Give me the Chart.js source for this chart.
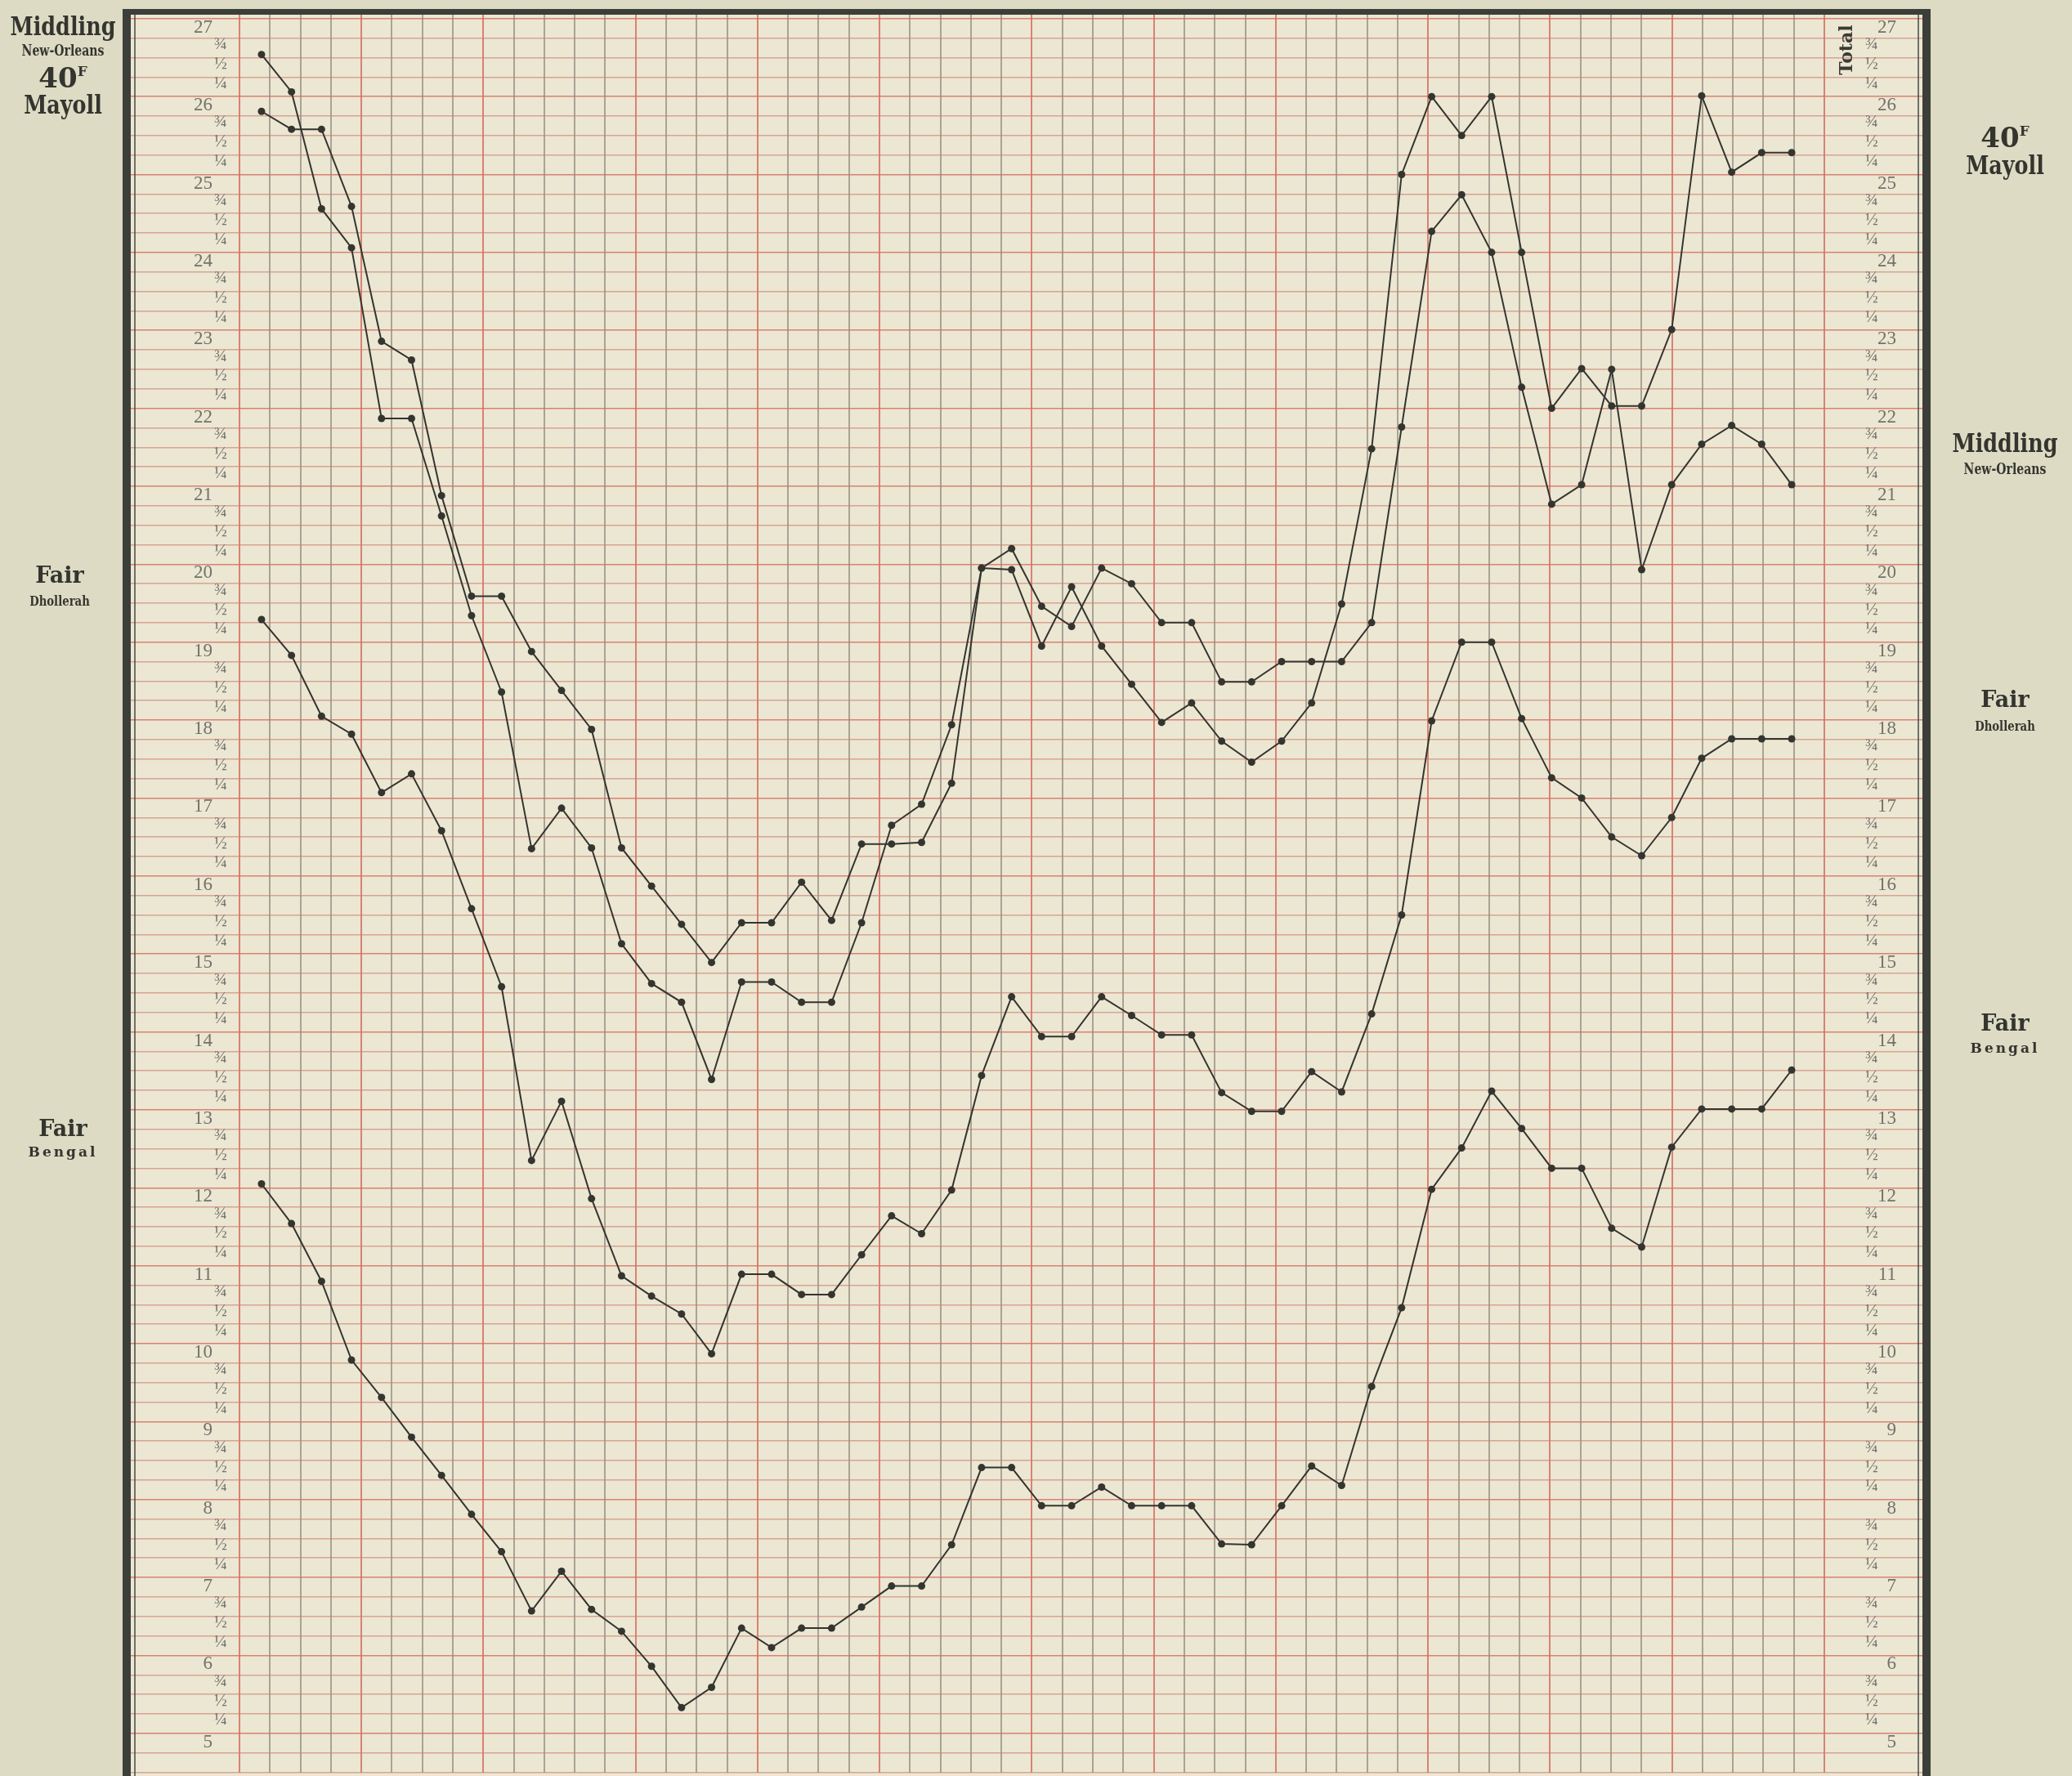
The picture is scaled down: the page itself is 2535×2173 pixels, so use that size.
<!DOCTYPE html>
<html>
<head>
<meta charset="utf-8">
<title>Cotton prices</title>
<script src="https://cdn.jsdelivr.net/npm/chart.js@4.4.1/dist/chart.umd.min.js"></script>
<style>
  html, body { margin: 0; padding: 0; }
  body {
    width: 2535px; height: 2173px; position: relative; overflow: hidden;
    background: #dddbc4; font-family: "DejaVu Serif", serif;
  }
  #paper { position: absolute; left: 160px; top: 18px; width: 2192px; height: 2155px; background: #ebe7d3; }
  #chart { position: absolute; left: 0; top: 0; }
  .rule { position: absolute; background: #3c3e3a; }
  .lbl {
    position: absolute; width: 220px; text-align: center; color: #34352f;
    font-weight: bold; line-height: 1; white-space: nowrap;
  }
  .big { font-size: 31px; transform: scaleX(0.82); }
  .num { font-size: 34px; }
  .num sup { font-size: 17px; vertical-align: 14px; }
  .sub { font-size: 18px; transform: scaleX(0.78); }
  .fair { font-size: 27px; }
  .spaced { font-size: 17px; letter-spacing: 3px; }
  #total { position: absolute; left: 2218px; top: 50px; width: 80px; text-align: center;
    font-size: 22px; font-weight: bold; color: #3a3b35; transform: rotate(-90deg); line-height: 1; }
</style>
</head>
<body>
<div id="paper"></div>
<canvas id="chart" width="2535" height="2173"></canvas>

<div class="rule" style="left:150px; top:11px; width:2212px; height:7px;"></div>
<div class="rule" style="left:150px; top:11px; width:10px; height:2162px;"></div>
<div class="rule" style="left:164px; top:18px; width:2px; height:2155px; opacity:0.7;"></div>
<div class="rule" style="left:2352px; top:11px; width:10px; height:2162px;"></div>
<div class="rule" style="left:2346px; top:18px; width:2px; height:2155px; opacity:0.7;"></div>

<div class="lbl big" style="left:-33px; top:17px;">Middling</div>
<div class="lbl sub" style="left:-33px; top:53px;">New-Orleans</div>
<div class="lbl num" style="left:-33px; top:78px;">40<sup>F</sup></div>
<div class="lbl big" style="left:-33px; top:113px;">Mayoll</div>
<div class="lbl fair" style="left:-37px; top:690px;">Fair</div>
<div class="lbl sub" style="left:-37px; top:727px; font-size:17px;">Dhollerah</div>
<div class="lbl fair" style="left:-33px; top:1367px;">Fair</div>
<div class="lbl spaced" style="left:-33px; top:1401px;">Bengal</div>

<div class="lbl num" style="left:2343px; top:151px;">40<sup>F</sup></div>
<div class="lbl big" style="left:2343px; top:187px;">Mayoll</div>
<div class="lbl big" style="left:2343px; top:527px;">Middling</div>
<div class="lbl sub" style="left:2343px; top:565px;">New-Orleans</div>
<div class="lbl fair" style="left:2343px; top:842px;">Fair</div>
<div class="lbl sub" style="left:2343px; top:880px; font-size:17px;">Dhollerah</div>
<div class="lbl fair" style="left:2343px; top:1238px;">Fair</div>
<div class="lbl spaced" style="left:2343px; top:1274px;">Bengal</div>

<div id="total">Total</div>

<script>
// weekly quotations, one point per week
const weeks = [1, 2, 3, 4, 5, 6, 7, 8, 9, 10, 11, 12, 13, 14, 15, 16, 17, 18, 19, 20,
  21, 22, 23, 24, 25, 26, 27, 28, 29, 30, 31, 32, 33, 34, 35, 36, 37, 38, 39, 40,
  41, 42, 43, 44, 45, 46, 47, 48, 49, 50, 51, 52];

const middling = [26.54, 26.06, 24.56, 24.06, 21.87, 21.87, 20.62, 19.34, 18.36, 16.35,
  16.87, 16.36, 15.13, 14.62, 14.38, 13.39, 14.64, 14.64, 14.38, 14.38,
  15.40, 16.65, 16.92, 17.94, 19.95, 20.20, 19.46, 19.20, 19.95, 19.75,
  19.25, 19.25, 18.49, 18.49, 18.75, 18.75, 18.75, 19.25, 21.76, 24.27,
  24.74, 24.00, 22.27, 20.77, 21.02, 22.50, 19.93, 21.02, 21.54, 21.78,
  21.54, 21.02];

const mayoll = [25.81, 25.58, 25.58, 24.59, 22.86, 22.62, 20.88, 19.59, 19.59, 18.88,
  18.38, 17.88, 16.36, 15.87, 15.38, 14.89, 15.40, 15.40, 15.92, 15.43,
  16.41, 16.41, 16.43, 17.19, 19.95, 19.93, 18.95, 19.71, 18.95, 18.46,
  17.97, 18.22, 17.73, 17.46, 17.73, 18.22, 19.49, 21.48, 25.00, 26.00,
  25.50, 26.00, 24.00, 22.00, 22.51, 22.03, 22.03, 23.01, 26.01, 25.03,
  25.28, 25.28];

const dhollerah = [19.29, 18.83, 18.05, 17.82, 17.07, 17.31, 16.58, 15.58, 14.58, 12.35,
  13.11, 11.86, 10.87, 10.61, 10.38, 9.87, 10.89, 10.89, 10.63, 10.63,
  11.14, 11.64, 11.41, 11.97, 13.44, 14.45, 13.94, 13.94, 14.45, 14.21,
  13.96, 13.96, 13.22, 12.98, 12.98, 13.49, 13.23, 14.23, 15.50, 17.99,
  19.00, 19.00, 18.02, 17.26, 17.00, 16.50, 16.26, 16.75, 17.51, 17.76,
  17.76, 17.76];

const bengal = [12.05, 11.54, 10.80, 9.79, 9.31, 8.80, 8.31, 7.81, 7.33, 6.57,
  7.08, 6.59, 6.31, 5.86, 5.33, 5.59, 6.35, 6.10, 6.35, 6.35,
  6.62, 6.89, 6.89, 7.42, 8.41, 8.41, 7.92, 7.92, 8.16, 7.92,
  7.92, 7.92, 7.43, 7.42, 7.92, 8.43, 8.18, 9.45, 10.46, 11.98,
  12.51, 13.24, 12.76, 12.25, 12.25, 11.48, 11.24, 12.52, 13.01, 13.01,
  13.01, 13.51];

// axis ticks: whole numbers 5..27, quarters between them
const yMin = 4.5;
const yMax = 27.05;
const quarterLabels = ["", "\u00BC", "\u00BD", "\u00BE"];

// printed ruling of the paper: 53 weekly rules, red ones at month starts
const paperRules = 52;
const monthRules = [0, 4, 8, 13, 17, 21, 26, 30, 34, 39, 43, 47, 52];

const ink = "#34352f";
const tickColor = "#72726a";
const redRule = "rgba(214, 112, 96, 0.85)";
const greyRule = "rgba(105, 95, 88, 0.5)";

// mirrored labels sit inside the plot, so the axes must take no room
const noWidth = (scale) => {
    scale.width = 0;
    scale.paddingTop = 0;
    scale.paddingBottom = 0;
};
const noHeight = (scale) => {
    scale.height = 0;
    scale.paddingLeft = 0;
    scale.paddingRight = 0;
};

const wholeLabel = (v) => Number.isInteger(v) && v >= 5 ? String(v) : "";
const fracLabel = (v) => v >= 5 ? quarterLabels[Math.round((v - Math.floor(v)) * 4)] : "";

// all label columns hang off the left edge of the plot, "far" = right aligned
const tickAxis = (crossAlign, padding, size, offset, callback) => ({
    position: "left",
    min: yMin,
    max: yMax,
    afterFit: noWidth,
    border: { display: false },
    grid: { display: false },
    ticks: {
        stepSize: 0.25,
        includeBounds: false,
        autoSkip: false,
        mirror: true,
        crossAlign: crossAlign,
        padding: padding,
        labelOffset: offset,
        color: tickColor,
        font: { family: "Liberation Serif", size: size },
        callback: callback
    }
});

const makeSet = (label, values) => ({
    label: label,
    data: values,
    borderColor: ink,
    borderWidth: 2,
    pointRadius: 4.5,
    pointBackgroundColor: ink,
    pointBorderWidth: 0,
    tension: 0,
    xAxisID: "x",
    yAxisID: "y"
});

const ctx = document.getElementById("chart").getContext("2d");

new Chart(ctx, {
    type: "line",
    data: {
        labels: weeks,
        datasets: [
            makeSet("Middling New-Orleans", middling),
            makeSet("40F Mayoll", mayoll),
            makeSet("Fair Dhollerah", dhollerah),
            makeSet("Fair Bengal", bengal)
        ]
    },
    options: {
        responsive: false,
        animation: false,
        layout: { padding: { left: 160, right: 183, top: 18, bottom: 0 } },
        plugins: {
            legend: { display: false },
            tooltip: { enabled: false }
        },
        scales: {
            x: {
                type: "linear",
                min: 1 - 160 / 36.72,
                max: 52 + 160 / 36.72,
                display: false
            },
            xRules: {
                type: "linear",
                position: "bottom",
                min: -133 / 37.29,
                max: paperRules + 120 / 37.29,
                afterFit: noHeight,
                border: { display: false },
                ticks: { display: false, stepSize: 1, autoSkip: false },
                grid: {
                    drawTicks: false,
                    lineWidth: 2,
                    color: (c) => {
                        const k = c.tick.value;
                        if (k < 0 || k > paperRules) return "rgba(0,0,0,0)";
                        return monthRules.includes(k) ? redRule : greyRule;
                    }
                }
            },
            y: {
                position: "left",
                min: yMin,
                max: yMax,
                afterFit: noWidth,
                border: { display: false },
                grid: {
                    drawTicks: false,
                    lineWidth: 1.5,
                    color: (c) => Number.isInteger(c.tick.value) ? redRule : "rgba(205, 128, 112, 0.65)"
                },
                ticks: {
                    stepSize: 0.25,
                    includeBounds: false,
                    autoSkip: false,
                    mirror: true,
                    crossAlign: "far",
                    padding: 77,
                    labelOffset: 11,
                    color: tickColor,
                    font: { family: "Liberation Serif", size: 23 },
                    callback: wholeLabel
                }
            },
            yLeftFrac: tickAxis("near", 102, 21, 8, fracLabel),
            yRight: tickAxis("far", 2137, 23, 11, wholeLabel),
            yRightFrac: tickAxis("far", 2122, 21, 8, fracLabel)
        }
    }
});
</script>
</body>
</html>
